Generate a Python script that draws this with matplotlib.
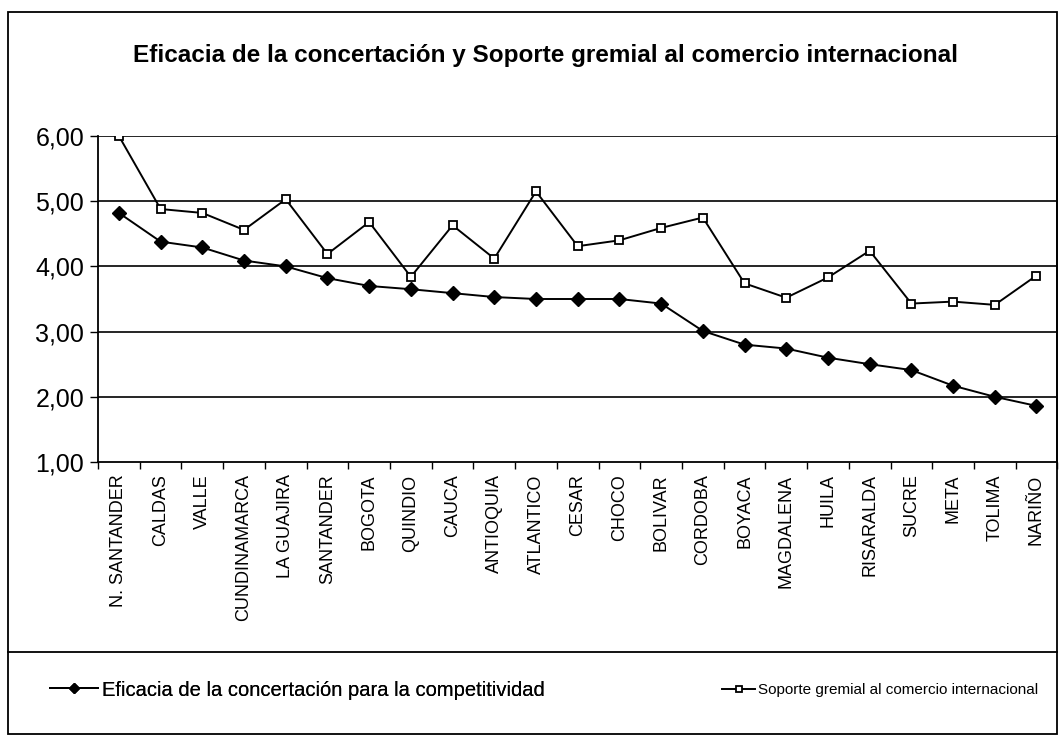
import numpy as np
import matplotlib
matplotlib.use('Agg')
import matplotlib.pyplot as plt
from matplotlib import font_manager
from matplotlib.patches import Rectangle
from matplotlib.lines import Line2D

plt.rcParams['font.family'] = ['Liberation Sans', 'DejaVu Sans']

# Data
departamentos = ['N. SANTANDER', 'CALDAS', 'VALLE', 'CUNDINAMARCA', 'LA GUAJIRA',
                 'SANTANDER', 'BOGOTA', 'QUINDIO', 'CAUCA', 'ANTIOQUIA', 'ATLANTICO',
                 'CESAR', 'CHOCO', 'BOLIVAR', 'CORDOBA', 'BOYACA', 'MAGDALENA',
                 'HUILA', 'RISARALDA', 'SUCRE', 'META', 'TOLIMA', 'NARIÑO']
eficacia = [4.82, 4.38, 4.29, 4.09, 4.00, 3.82, 3.70, 3.65, 3.59, 3.53, 3.50,
            3.50, 3.50, 3.43, 3.01, 2.80, 2.74, 2.60, 2.50, 2.41, 2.17, 2.00, 1.86]
soporte = [6.00, 4.88, 4.82, 4.56, 5.03, 4.19, 4.68, 3.84, 4.63, 4.12, 5.15,
           4.31, 4.40, 4.59, 4.75, 3.74, 3.52, 3.83, 4.24, 3.43, 3.46, 3.41, 3.86]
y_ticks = [1, 2, 3, 4, 5, 6]

titulo = 'Eficacia de la concertación y Soporte gremial al comercio internacional'
nombre_1 = 'Eficacia de la concertación para la competitividad'
nombre_2 = 'Soporte gremial al comercio internacional'

# narrow font for the second legend entry if there is one
try:
    font_manager.findfont('Liberation Sans Narrow', fallback_to_default=False)
    prop2 = {'family': 'Liberation Sans Narrow', 'size': 13}
except ValueError:
    prop2 = {'family': 'Liberation Sans', 'size': 11}

fig = plt.figure(figsize=(10.6, 7.38), dpi=100)
ax = fig.add_axes([0.0925, 0.374, 0.905, 0.4417])

x = np.arange(len(departamentos))
l1, = ax.plot(x, eficacia, color='black', lw=1.4, marker='D', ms=7.5,
              mfc='black', mec='black', label=nombre_1)
l2, = ax.plot(x, soporte, color='black', lw=1.4, marker='s', ms=6,
              mfc='white', mec='black', mew=1.3, label=nombre_2)

ax.set_xlim(-0.5, len(departamentos) - 0.5)
ax.set_ylim(1, 6)
ax.set_yticks(y_ticks)
ax.set_yticklabels([f'{v:.2f}'.replace('.', ',') for v in y_ticks], fontsize=18)
for v in y_ticks[1:]:
    ax.axhline(v, color='black', lw=1.2, zorder=0)

ax.set_xticks(x)
ax.set_xticklabels(departamentos, rotation=90, fontsize=13, va='top')
ax.set_xticks(np.arange(-0.5, len(departamentos)), minor=True)
ax.tick_params(axis='x', which='major', length=0, pad=9)
ax.tick_params(axis='x', which='minor', length=5, direction='out', width=1)
ax.tick_params(axis='y', length=6, width=1, pad=4)

ax.spines['top'].set_visible(False)
for s in ['left', 'bottom', 'right']:
    ax.spines[s].set_linewidth(1.3)

fig.text(0.515, 0.925, titulo, ha='center', va='center', fontsize=17.5, fontweight='bold')

# outer frame and legend separator
fig.patches.append(Rectangle((0.0075, 0.0054), 0.9895, 0.9783, transform=fig.transFigure,
                             fill=False, lw=1.3, ec='black'))
fig.lines.append(Line2D([0.0075, 0.997], [0.1165, 0.1165], transform=fig.transFigure,
                        color='black', lw=1.3))

leg1 = fig.legend(handles=[l1], loc='center left', bbox_to_anchor=(0.03, 0.065),
                  frameon=False, fontsize=14.5, handlelength=2.4, handletextpad=0.2,
                  markerscale=0.7)
fig.add_artist(leg1)
fig.legend(handles=[l2], loc='center left', bbox_to_anchor=(0.668, 0.065),
           frameon=False, prop=prop2, handlelength=2.2, handletextpad=0.2,
           markerscale=0.7)

fig.savefig('out.png', dpi=100)
